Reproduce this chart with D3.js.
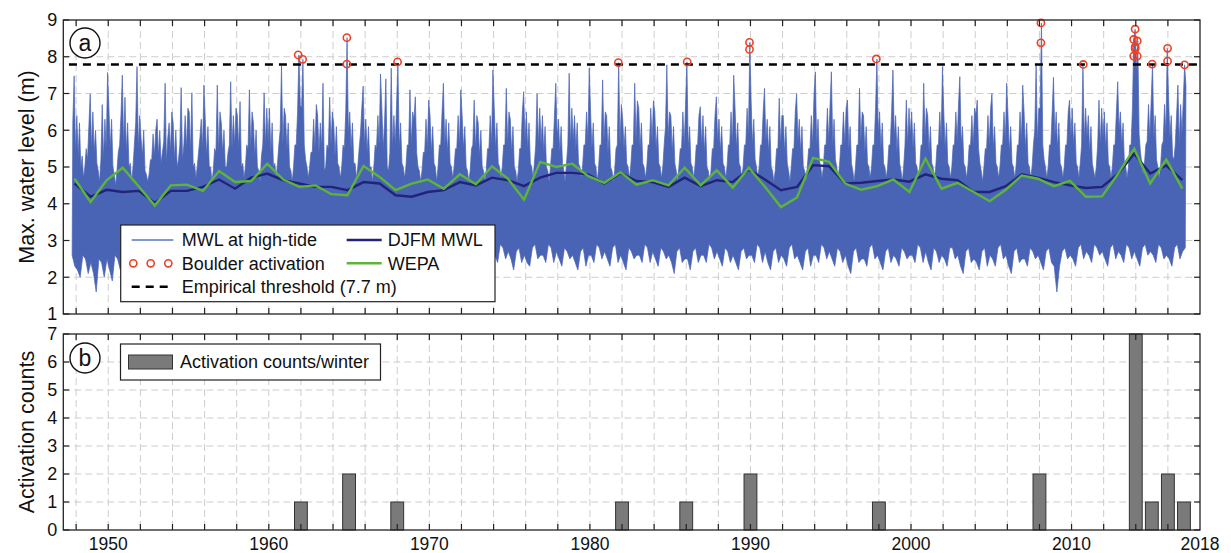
<!DOCTYPE html>
<html><head><meta charset="utf-8">
<script src="https://cdn.jsdelivr.net/npm/d3@7"></script>
<style>body{margin:0;background:#fff}svg text{font-family:"Liberation Sans",Arial,sans-serif;fill:#111}</style>
</head><body><svg id="c" width="1231" height="553"></svg>
<script>
// ---------- DATA ----------
// Max water level at high tide, upper envelope, monthly (first value = Oct 1947)
const mwlUpperStart = 1947.75, mwlUpperPerYear = 12;
const mwlUpper = [
 6.2,7.48,5.4,
 6.4,5.3,6.2,5.0,5.3,4.7,5.0,5.5,5.2,6.1,6.99,5.5,
 6.5,5.4,6.0,5.1,4.9,4.6,5.2,6.7,5.2,6.3,5.5,7.57,
 6.6,5.5,6.3,5.0,4.8,4.5,4.9,5.4,5.6,6.4,7.5,5.6,
 6.9,5.4,6.2,5.0,5.1,4.6,5.0,5.6,6.2,7.73,5.5,6.4,
 5.8,5.3,6.0,4.9,4.8,4.6,4.8,5.2,5.2,5.9,5.3,6.0,
 6.3,5.3,6.0,5.1,5.4,5.7,7.28,5.1,5.8,6.2,5.4,6.5,
 6.2,5.2,6.0,5.0,5.2,5.6,7.16,5.2,5.6,6.4,5.5,6.6,
 6.5,5.4,7.02,5.0,5.1,4.7,5.0,5.4,5.8,6.3,5.5,7.23,
 6.3,5.3,6.1,5.0,5.0,4.6,4.9,5.5,5.4,7.23,5.4,6.5,
 6.2,5.4,6.0,5.0,5.0,5.4,5.6,7.32,5.5,6.4,5.6,6.6,
 6.4,5.5,6.78,5.0,5.1,4.7,5.0,5.6,5.5,7.1,5.5,6.5,
 6.2,5.3,6.0,5.0,4.9,4.6,5.3,5.6,7.02,5.6,6.6,5.7,
 6.6,5.4,6.2,5.0,5.1,4.7,5.1,5.6,6.0,7.75,5.6,6.6,
 6.4,5.5,6.2,5.0,4.9,4.6,5.0,5.6,5.6,6.5,8.05,6.7,
 6.6,7.93,5.6,5.2,5.0,4.7,5.0,5.4,5.4,6.3,5.5,6.7,
 6.4,5.4,6.2,5.5,7.28,4.9,5.0,5.6,5.5,6.9,5.6,6.5,
 6.2,5.3,6.1,5.1,5.0,4.7,5.0,5.6,5.5,6.5,8.52,5.9,
 6.5,5.5,6.2,5.1,5.1,4.7,5.0,5.5,5.9,6.6,7.2,5.6,
 6.3,5.4,6.1,5.0,5.0,4.6,5.0,5.6,5.5,6.4,5.6,7.53,
 6.6,5.5,6.2,7.4,5.0,4.9,5.4,7.69,5.5,6.4,5.6,6.7,
 7.83,5.5,6.2,5.1,5.0,4.7,5.0,5.6,5.6,7.1,5.6,6.5,
 6.3,6.91,5.4,5.0,4.9,4.6,4.9,5.4,5.4,6.3,5.5,6.82,
 6.4,5.4,6.1,5.1,5.0,4.6,5.0,5.6,5.6,6.5,7.28,5.6,
 6.3,5.4,6.2,5.1,5.0,4.7,5.0,5.5,5.5,6.4,5.6,7.10,
 6.4,5.5,6.1,5.0,4.9,4.6,4.9,5.5,5.6,6.82,5.5,6.4,
 6.2,5.3,6.0,5.0,4.9,4.6,4.9,5.5,5.5,6.4,5.6,7.64,
 6.6,5.5,6.2,5.1,5.0,4.7,5.0,5.6,5.6,7.14,5.6,6.5,
 6.3,5.4,6.1,5.0,4.9,4.6,4.9,5.5,5.5,6.5,7.05,5.7,
 6.5,5.5,6.2,5.1,5.0,4.7,5.1,5.6,7.0,5.6,6.6,5.6,
 6.4,5.4,6.1,5.0,4.9,4.6,5.0,5.5,5.5,6.4,7.28,5.8,
 6.3,5.4,6.1,5.1,4.9,4.6,5.1,5.6,7.55,5.6,6.6,5.7,
 6.4,5.5,6.2,5.1,5.0,4.7,5.0,5.6,5.6,6.5,5.7,7.69,
 6.5,5.5,6.2,5.1,5.0,4.6,5.0,5.6,5.6,7.37,5.7,6.5,
 6.4,5.4,6.1,5.0,4.9,4.6,4.9,5.5,5.6,7.84,5.6,6.7,
 6.3,5.5,6.1,5.1,5.0,4.7,5.0,5.6,5.6,7.28,5.7,6.8,
 6.6,5.5,6.2,5.1,5.0,4.7,5.0,5.6,5.6,6.6,5.7,6.8,
 6.5,5.5,6.1,5.1,5.0,4.7,5.0,5.6,6.1,7.78,5.8,6.5,
 6.4,5.4,6.1,5.1,4.9,4.6,5.0,5.5,5.5,6.5,5.6,6.7,
 7.86,5.5,6.1,5.1,5.0,4.7,5.0,5.6,5.6,6.4,6.64,5.6,
 6.4,5.4,6.1,5.0,4.9,4.6,4.9,5.5,5.5,6.4,6.91,5.7,
 6.3,5.4,6.1,5.1,5.0,4.7,5.0,5.6,5.6,6.5,5.6,7.50,
 6.6,5.5,6.2,5.1,5.0,4.7,5.0,5.6,5.6,6.6,5.8,8.39,
 6.8,5.6,6.3,5.2,5.0,4.7,5.0,5.6,5.6,6.5,7.14,5.7,
 6.3,5.4,6.1,5.0,4.9,4.6,4.9,5.5,5.5,6.87,5.6,6.4,
 6.4,5.4,6.1,5.1,4.9,4.6,5.0,5.5,5.5,6.5,7.0,5.7,
 6.3,5.4,6.1,5.0,4.9,4.6,5.0,5.5,5.5,6.4,5.6,6.95,
 7.59,5.6,6.3,5.2,5.0,4.7,5.0,5.6,5.6,6.6,5.7,6.7,
 7.59,5.6,6.3,5.2,5.0,4.7,5.0,5.6,5.6,6.5,5.6,6.6,
 6.82,5.5,6.1,5.1,4.9,4.6,5.0,5.6,5.6,7.14,5.7,6.5,
 6.4,5.4,6.1,5.1,5.0,4.7,5.0,5.6,5.6,6.6,7.94,5.9,
 6.5,5.5,6.2,5.1,5.0,4.7,5.0,5.6,5.6,6.5,7.64,5.8,
 6.4,5.4,6.1,5.1,4.9,4.6,5.0,5.6,6.82,5.6,6.6,5.9,
 6.5,5.5,6.2,5.1,5.0,4.7,5.0,5.6,5.6,7.28,5.8,6.6,
 6.4,5.4,6.1,5.1,5.0,4.7,5.0,5.6,5.6,6.5,5.7,7.73,
 6.5,5.5,6.2,5.1,5.0,4.7,5.0,5.6,5.6,6.5,5.7,6.7,
 7.46,5.6,6.1,5.1,5.0,4.7,5.0,5.6,5.6,6.4,5.6,6.6,
 6.4,6.82,5.5,5.1,4.9,4.6,5.0,5.5,5.5,6.4,5.6,6.6,
 7.0,5.5,6.1,5.1,5.0,4.7,5.0,5.6,5.6,6.5,5.7,7.28,
 6.4,5.4,6.1,5.1,5.0,4.7,5.0,5.6,5.6,6.5,5.7,7.23,
 6.5,5.5,6.2,5.1,5.0,4.7,5.0,5.6,6.0,7.77,5.7,6.6,
 6.6,8.92,5.6,5.2,5.0,4.7,5.0,5.6,5.6,6.5,7.44,5.8,
 6.5,5.5,6.2,5.1,5.0,4.7,5.0,5.6,5.6,6.5,6.82,5.8,
 6.6,5.6,6.2,5.1,5.0,4.7,5.1,5.6,7.79,5.7,6.6,5.8,
 6.4,5.4,6.1,5.1,4.9,4.7,5.0,5.6,6.82,5.6,6.6,5.8,
 6.5,5.5,6.2,5.1,5.0,4.7,5.0,5.6,5.6,6.5,7.32,6.0,
 6.5,5.6,6.2,5.1,5.0,4.7,5.0,5.6,5.6,6.6,8.47,8.75,
 7.6,8.43,5.9,5.4,5.1,4.8,5.1,5.6,5.7,6.7,5.8,6.8,
 7.80,5.8,6.4,5.2,5.0,4.7,5.0,5.6,5.7,6.7,5.9,8.23,
 6.9,5.8,6.4,5.3,5.2,5.6,6.4,7.23,5.6,6.7,5.9,6.8,
 7.78,7.2
];
// lower envelope, bimonthly (first value = Sep-Oct 1947)
const mwlLowerStart = 1947.667, mwlLowerPerYear = 6;
const mwlLower = [
 2.6,2.3,
 2.2,2.0,2.6,2.5,2.1,2.4,
 2.1,1.6,2.5,2.4,2.0,2.5,
 2.2,1.9,2.6,2.5,2.2,2.4,
 2.3,2.1,2.7,2.6,2.3,2.5,
 2.5,2.3,2.8,2.7,2.4,2.6,
 2.4,2.2,2.7,2.8,2.5,2.6,
 2.6,2.3,2.8,2.7,2.4,2.5,
 2.4,2.2,2.7,2.8,2.5,2.6,
 2.5,2.3,2.8,2.7,2.3,2.6,
 2.6,2.4,2.9,2.8,2.5,2.7,
 2.4,2.3,2.8,2.7,2.4,2.6,
 2.5,2.2,2.8,2.9,2.5,2.6,
 2.6,2.4,2.9,2.8,2.4,2.7,
 2.5,2.3,2.8,2.7,2.5,2.6,
 2.4,2.2,2.7,2.8,2.4,2.6,
 2.5,2.3,2.8,2.7,2.5,2.6,
 2.6,2.4,2.9,2.8,2.4,2.7,
 2.5,2.3,2.8,2.9,2.5,2.6,
 2.4,2.2,2.7,2.8,2.4,2.6,
 2.6,2.4,2.9,2.8,2.5,2.7,
 2.5,2.3,2.8,2.7,2.4,2.6,
 2.4,2.2,2.7,2.8,2.5,2.6,
 2.5,2.3,2.8,2.9,2.4,2.6,
 2.6,2.4,2.9,2.8,2.5,2.7,
 2.4,2.2,2.7,2.8,2.4,2.5,
 2.5,2.3,2.8,2.7,2.3,2.6,
 2.6,2.4,2.9,2.8,2.5,2.7,
 2.5,2.2,2.7,2.8,2.4,2.6,
 2.4,2.3,2.8,2.9,2.5,2.6,
 2.6,2.4,2.9,2.8,2.4,2.7,
 2.5,2.3,2.8,2.7,2.5,2.6,
 2.4,2.2,2.7,2.8,2.3,2.6,
 2.6,2.4,2.9,2.8,2.5,2.7,
 2.5,2.3,2.8,2.9,2.4,2.6,
 2.4,2.2,2.8,2.7,2.5,2.6,
 2.6,2.4,2.9,2.8,2.4,2.7,
 2.5,2.3,2.8,2.7,2.5,2.6,
 2.4,2.1,2.7,2.8,2.4,2.5,
 2.5,2.2,2.7,2.8,2.4,2.6,
 2.6,2.4,2.9,2.8,2.5,2.7,
 2.5,2.3,2.8,2.7,2.4,2.6,
 2.4,2.2,2.7,2.8,2.5,2.6,
 2.6,2.4,2.9,2.8,2.4,2.7,
 2.4,2.2,2.7,2.8,2.4,2.6,
 2.5,2.3,2.8,2.9,2.5,2.6,
 2.4,2.2,2.7,2.8,2.3,2.6,
 2.6,2.4,2.9,2.8,2.5,2.7,
 2.5,2.3,2.8,2.7,2.4,2.6,
 2.3,2.1,2.7,2.8,2.4,2.5,
 2.5,2.3,2.8,2.9,2.5,2.6,
 2.4,2.2,2.7,2.8,2.4,2.6,
 2.5,2.3,2.8,2.7,2.5,2.6,
 2.6,2.4,2.9,2.8,2.4,2.7,
 2.4,2.2,2.8,2.7,2.4,2.6,
 2.5,2.3,2.8,2.8,2.5,2.6,
 2.3,2.1,2.7,2.8,2.4,2.5,
 2.4,2.2,2.7,2.8,2.3,2.6,
 2.5,2.3,2.8,2.9,2.5,2.6,
 2.3,2.1,2.7,2.8,2.4,2.5,
 2.5,2.3,2.8,2.7,2.5,2.6,
 2.4,2.2,2.7,2.8,2.4,2.3,
 1.6,2.3,2.7,2.8,2.5,2.6,
 2.5,2.3,2.8,2.9,2.5,2.7,
 2.6,2.4,2.9,2.8,2.6,2.7,
 2.5,2.3,2.8,2.9,2.5,2.7,
 2.6,2.4,2.9,2.8,2.5,2.7,
 2.5,2.3,2.8,2.9,2.6,2.7,
 2.6,2.4,2.9,2.8,2.5,2.6,
 2.5,2.3,2.8,2.9,2.5,2.7,
 2.8
];
// winters (DJFM) 1948-2017
const winters = [1948,1949,1950,1951,1952,1953,1954,1955,1956,1957,1958,1959,1960,1961,1962,1963,1964,1965,1966,1967,
 1968,1969,1970,1971,1972,1973,1974,1975,1976,1977,1978,1979,1980,1981,1982,1983,1984,1985,1986,1987,
 1988,1989,1990,1991,1992,1993,1994,1995,1996,1997,1998,1999,2000,2001,2002,2003,2004,2005,2006,2007,
 2008,2009,2010,2011,2012,2013,2014,2015,2016,2017];
const djfmMWL = [4.55,4.19,4.38,4.32,4.35,4.02,4.35,4.35,4.46,4.66, 4.41,4.71,4.82,4.64,4.55,4.46,4.46,4.37,4.59,4.55,
 4.23,4.19,4.32,4.37,4.59,4.50,4.71,4.64,4.48,4.71, 4.84,4.84,4.80,4.55,4.84,4.62,4.59,4.46,4.71,4.48,
 4.64,4.59,4.93,4.66,4.37,4.46,5.05,5.02,4.55,4.57, 4.62,4.66,4.60,4.80,4.68,4.64,4.32,4.32,4.48,4.80,
 4.71,4.59,4.50,4.43,4.46,4.82,5.36,4.82,5.04,4.64];
const wepa = [4.68,4.05,4.64,4.98,4.47,3.95,4.50,4.52,4.35,4.89, 4.59,4.62,5.09,4.66,4.46,4.50,4.26,4.23,5.03,4.73,
 4.37,4.55,4.66,4.41,4.80,4.53,5.02,4.68,4.11,5.14, 5.00,5.09,4.75,4.57,4.86,4.52,4.64,4.50,4.98,4.50,
 4.91,4.44,4.98,4.46,3.91,4.17,5.25,5.14,4.55,4.38, 4.48,4.66,4.32,5.23,4.41,4.57,4.32,4.07,4.38,4.77,
 4.68,4.48,4.62,4.19,4.20,4.82,5.50,4.55,5.20,4.41];
// boulder activation events (time, water level)
const activationTime = [1961.83,1962.11,1964.86,1964.86,1968.02,1981.77,1986.06,1989.94,1989.94,1997.84,2008.09,2008.09,
 2010.73,2013.96,2013.87,2014.09,2013.96,2013.96,2013.87,2014.09,2015.02,2015.98,2015.98,2017.04];
const activationLevel = [8.05,7.93,8.52,7.80,7.86,7.84,7.86,8.39,8.20,7.94,8.92,8.38,
 7.79,8.75,8.47,8.43,8.27,8.22,8.02,8.02,7.80,8.23,7.88,7.78];
const threshold = 7.79;
// activation counts per winter
const countWinters = [1962,1965,1968,1982,1986,1990,1998,2008,2014,2015,2016,2017];
const counts = [1,2,1,1,1,2,1,2,7,1,2,1];
// axis ticks
const xTickYears = [1948,1950,1952,1954,1956,1958,1960,1962,1964,1966,1968,1970,1972,1974,1976,1978,1980,1982,1984,1986,1988,1990,1992,1994,1996,1998,2000,2002,2004,2006,2008,2010,2012,2014,2016];
const xLabelYears = [1950,1960,1970,1980,1990,2000,2010,2018];
const yTicksA = [1,2,3,4,5,6,7,8,9];
const yTicksB = [0,1,2,3,4,5,6,7];

// ---------- LAYOUT ----------
const L = 63.3, R = 1200;
const aTop = 20, aBot = 314, bTop = 334, bBot = 530;
const svg = d3.select('#c');
const x = d3.scaleLinear().domain([1947.2, 2018]).range([L, R]);
const yA = d3.scaleLinear().domain([1, 9]).range([aBot, aTop]);
const yB = d3.scaleLinear().domain([0, 7]).range([bBot, bTop]);

const gridColor = '#cdcdcd';
function grid(y, yticks, top, bot) {
  const g = svg.append('g');
  g.selectAll('.vg').data(xTickYears).join('line')
    .attr('x1', d => x(d)).attr('x2', d => x(d)).attr('y1', top).attr('y2', bot)
    .attr('stroke', gridColor).attr('stroke-dasharray', '7,4').attr('stroke-width', 1);
  g.selectAll('.hg').data(yticks.slice(1, -1)).join('line')
    .attr('x1', L).attr('x2', R).attr('y1', d => y(d)).attr('y2', d => y(d))
    .attr('stroke', gridColor).attr('stroke-dasharray', '7,4').attr('stroke-width', 1);
}
grid(yA, yTicksA, aTop, aBot);
grid(yB, yTicksB, bTop, bBot);

// ---------- PANEL A ----------
const upperPts = mwlUpper.map((v, i) => [mwlUpperStart + (i + 0.5) / mwlUpperPerYear, v]);
const lowerPts = mwlLower.map((v, i) => [mwlLowerStart + (i + 0.5) / mwlLowerPerYear, v]);
const band = upperPts.concat(lowerPts.slice().reverse());
const lineA = d3.line().x(d => x(d[0])).y(d => yA(d[1]));
svg.append('path').attr('d', lineA(band) + 'Z')
  .attr('fill', '#4a64b5').attr('stroke', '#4a64b5').attr('stroke-width', 0.7).attr('stroke-linejoin', 'miter');

// threshold
svg.append('line').attr('x1', x(1947.55)).attr('x2', R - 2).attr('y1', yA(threshold)).attr('y2', yA(threshold))
  .attr('stroke', '#000').attr('stroke-width', 2.4).attr('stroke-dasharray', '8,6');

const winterT = winters.map(w => w - 0.1);
const lineW = d3.line().x((d, i) => x(winterT[i])).y(d => yA(d));
svg.append('path').attr('d', lineW(djfmMWL)).attr('fill', 'none').attr('stroke', '#23237a').attr('stroke-width', 2.4);
svg.append('path').attr('d', lineW(wepa)).attr('fill', 'none').attr('stroke', '#5cb53a').attr('stroke-width', 2.4);

svg.selectAll('.act').data(activationTime).join('circle')
  .attr('cx', d => x(d)).attr('cy', (d, i) => yA(activationLevel[i])).attr('r', 3.6)
  .attr('fill', 'none').attr('stroke', '#ec4127').attr('stroke-width', 1.6);

// ---------- PANEL B ----------
svg.selectAll('.bar').data(countWinters).join('rect')
  .attr('x', d => x(d - 0.4)).attr('width', d => x(d + 0.4) - x(d - 0.4))
  .attr('y', (d, i) => yB(counts[i])).attr('height', (d, i) => yB(0) - yB(counts[i]))
  .attr('fill', '#7a7a7a').attr('stroke', '#333').attr('stroke-width', 1);

// ---------- AXES / FRAMES ----------
function frame(y, yticks, top, bot) {
  svg.append('rect').attr('x', L).attr('y', top).attr('width', R - L).attr('height', bot - top)
    .attr('fill', 'none').attr('stroke', '#222').attr('stroke-width', 1.3);
  const tk = svg.append('g').attr('stroke', '#222').attr('stroke-width', 1.2);
  tk.selectAll('.tb').data(xTickYears).join('line').attr('x1', d => x(d)).attr('x2', d => x(d)).attr('y1', bot).attr('y2', bot - 6);
  tk.selectAll('.tt').data(xTickYears).join('line').attr('x1', d => x(d)).attr('x2', d => x(d)).attr('y1', top).attr('y2', top + 6);
  tk.selectAll('.tl').data(yticks).join('line').attr('x1', L).attr('x2', L + 6).attr('y1', d => y(d)).attr('y2', d => y(d));
  tk.selectAll('.tr').data(yticks).join('line').attr('x1', R).attr('x2', R - 6).attr('y1', d => y(d)).attr('y2', d => y(d));
  svg.append('g').selectAll('text').data(yticks).join('text')
    .attr('x', L - 6).attr('y', d => y(d)).attr('dy', '0.36em').attr('text-anchor', 'end')
    .attr('font-size', 18).text(d => d);
}
frame(yA, yTicksA, aTop, aBot);
frame(yB, yTicksB, bTop, bBot);
svg.append('g').selectAll('text').data(xLabelYears).join('text')
  .attr('x', d => x(d)).attr('y', 550).attr('text-anchor', 'middle')
  .attr('font-size', 17.5).text(d => d);

// axis titles
svg.append('text').attr('transform', 'translate(26,167) rotate(-90)').attr('text-anchor', 'middle')
  .attr('dy', '0.36em').attr('font-size', 21.5).text('Max. water level (m)');
svg.append('text').attr('transform', 'translate(26,432) rotate(-90)').attr('text-anchor', 'middle')
  .attr('dy', '0.36em').attr('font-size', 21.5).text('Activation counts');

// panel labels
function panelLabel(cx, cy, t) {
  svg.append('circle').attr('cx', cx).attr('cy', cy).attr('r', 15).attr('fill', '#fff').attr('stroke', '#111').attr('stroke-width', 1.4);
  svg.append('text').attr('x', cx).attr('y', cy).attr('dy', '0.33em').attr('text-anchor', 'middle').attr('font-size', 23).text(t);
}
panelLabel(85, 43, 'a');
panelLabel(85, 358, 'b');

// legend A
const lg = svg.append('g');
lg.append('rect').attr('x', 120.7).attr('y', 225).attr('width', 374.3).attr('height', 76.7).attr('fill', '#fff').attr('stroke', '#222').attr('stroke-width', 1.2);
const r1 = 240, r2 = 263.3, r3 = 286.7;
lg.append('line').attr('x1', 131.7).attr('x2', 173.3).attr('y1', r1).attr('y2', r1).attr('stroke', '#5a74c4').attr('stroke-width', 1.5);
lg.selectAll('.lc').data([133.3, 150.7, 168.3]).join('circle').attr('cx', d => d).attr('cy', r2).attr('r', 3.6)
  .attr('fill', 'none').attr('stroke', '#ec4127').attr('stroke-width', 1.6);
lg.append('line').attr('x1', 131.7).attr('x2', 172).attr('y1', r3).attr('y2', r3).attr('stroke', '#000').attr('stroke-width', 2.4).attr('stroke-dasharray', '8,6');
lg.append('line').attr('x1', 346.7).attr('x2', 381.7).attr('y1', r1).attr('y2', r1).attr('stroke', '#23237a').attr('stroke-width', 2.4);
lg.append('line').attr('x1', 346.7).attr('x2', 381.7).attr('y1', r2).attr('y2', r2).attr('stroke', '#5cb53a').attr('stroke-width', 2.4);
const legText = [[181.7, r1, 'MWL at high-tide'], [181.7, r2, 'Boulder activation'], [181.7, r3, 'Empirical threshold (7.7 m)'],
                 [387.7, r1, 'DJFM MWL'], [387.7, r2, 'WEPA']];
lg.selectAll('text').data(legText).join('text').attr('x', d => d[0]).attr('y', d => d[1]).attr('dy', '0.36em')
  .attr('font-size', 18).text(d => d[2]);

// legend B
const lb = svg.append('g');
lb.append('rect').attr('x', 120.5).attr('y', 344).attr('width', 260).attr('height', 36).attr('fill', '#fff').attr('stroke', '#222').attr('stroke-width', 1.2);
lb.append('rect').attr('x', 128.5).attr('y', 355).attr('width', 44).attr('height', 14).attr('fill', '#7a7a7a').attr('stroke', '#333');
lb.append('text').attr('x', 180).attr('y', 362).attr('dy', '0.36em').attr('font-size', 18).text('Activation counts/winter');
</script></body></html>
